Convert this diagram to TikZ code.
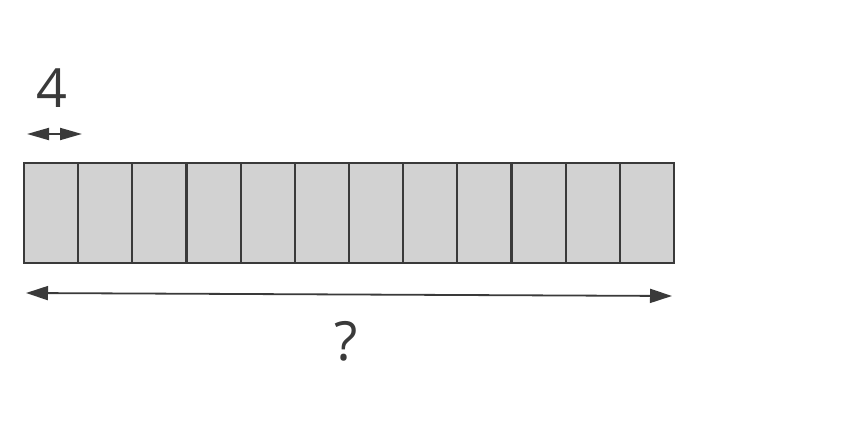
\documentclass[tikz,border=0pt]{standalone}
\usepackage{fontspec}
\setmainfont{Open Sans}
\usetikzlibrary{arrows.meta}
\definecolor{barfill}{HTML}{D2D2D2}
\definecolor{inkgray}{HTML}{3A3A3A}
\tikzset{
	cellbox/.style={draw=inkgray, line width=1.1pt, fill=barfill, minimum width=27.08pt, minimum height=50pt, inner sep=0pt, outer sep=0pt, anchor=north west},
	lenarrow/.style={inkgray, line width=0.9pt, {Triangle[length=11pt,width=7pt]}-{Triangle[length=11pt,width=7pt]}},
	numlabel/.style={text=inkgray, font=\fontsize{27}{30}\selectfont}
}
\begin{document}
\begin{tikzpicture}[x=0.5pt, y=-0.5pt]
		\useasboundingbox (0,0) rectangle (846,438);
		% Twelve equal parts of the bar
		\foreach \x [count=\i] in {24,78.17,...,620} {
			\node[cellbox] (cell\i) at (\x,163) {};
		}
		% Width of one part
		\coordinate (sl) at (27,134);
		\coordinate (sr) at (82,134);
		\draw[lenarrow, {Triangle[length=11pt,width=6pt]}-{Triangle[length=11pt,width=6pt]}] (sl) -- (sr);
		\node[numlabel] (four) at (52,88) {4};
		% Whole length of the bar
		\coordinate (bl) at (26,293);
		\coordinate (br) at (672,296);
		\draw[lenarrow] (bl) -- (br);
		\node[numlabel] (whole) at (346,341) {?};
\end{tikzpicture}
\end{document}
